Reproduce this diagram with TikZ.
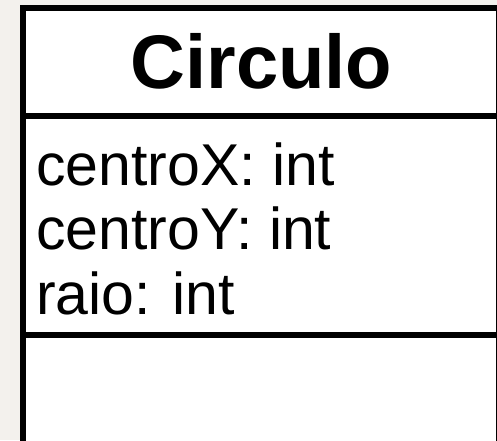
\documentclass[tikz,border=0pt]{standalone}
\usepackage{fontspec}
\setmainfont{Liberation Sans}
\definecolor{bgcol}{RGB}{243,241,237}
\begin{document}
\begin{tikzpicture}[x=1pt,y=1pt,
  border/.style={line width=6pt,draw=black},
  titletext/.style={anchor=base,inner sep=0pt,font=\fontsize{76}{80}\selectfont\bfseries},
  attrtext/.style={anchor=base west,inner sep=0pt,font=\fontsize{59}{66}\selectfont}]
\fill[bgcol] (0,0) rectangle (497,440);
\useasboundingbox (0,0) rectangle (497,440);
\begin{scope}
\clip (0,0) rectangle (497,440);
\fill[white] (23,-10) rectangle (499,432);
\draw[border] (23,-10) -- (23,432) -- (499,432) -- (499,-10);
\draw[border] (20,324) -- (499,324);
\draw[border] (20,105) -- (499,105);
\end{scope}
\node[titletext] (title) at (261.5,352) {Circulo};
\node[attrtext] (a1) at (36,255) {centroX: int};
\node[attrtext] (a2) at (36,191) {centroY: int};
\node[attrtext] (a3) at (36,126) {raio: int};
\end{tikzpicture}
\end{document}
